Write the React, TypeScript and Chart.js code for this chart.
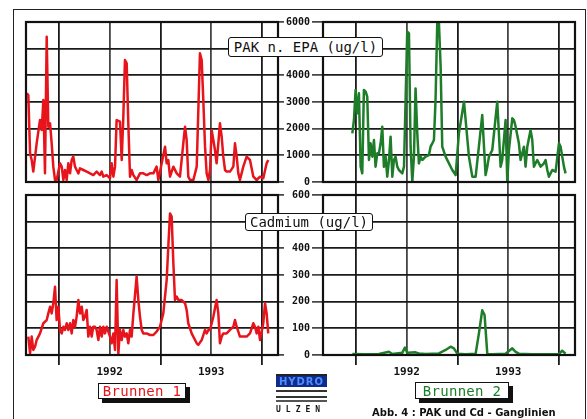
import React, { useEffect, useRef } from 'react';
import { Chart, registerables } from 'chart.js';

Chart.register(...registerables);

// ---------- data ----------
const xTickValues = [1992, 1992.5, 1993, 1993.5, 1994];
const xTickLabels = ['', '1992', '', '1993', ''];
const pakTickValues = [0, 1000, 2000, 3000, 4000, 5000, 6000];
const cdTickValues = [0, 100, 200, 300, 400, 500, 600];

const b1PakDates = [1991.682,1991.698,1991.715,1991.731,1991.747,1991.780,1991.813,1991.830,1991.846,1991.862,
  1991.879,1991.895,1991.912,1991.928,1991.944,1991.961,1991.977,1992.010,1992.027,1992.043,
  1992.059,1992.076,1992.092,1992.109,1992.125,1992.141,1992.158,1992.174,1992.191,1992.207,
  1992.240,1992.273,1992.306,1992.338,1992.371,1992.404,1992.421,1992.437,1992.470,1992.503,
  1992.519,1992.536,1992.552,1992.568,1992.601,1992.618,1992.634,1992.650,1992.667,1992.683,
  1992.700,1992.716,1992.733,1992.765,1992.798,1992.831,1992.864,1992.897,1992.930,1992.962,
  1992.979,1993.012,1993.045,1993.061,1993.077,1993.094,1993.127,1993.160,1993.192,1993.225,
  1993.242,1993.258,1993.274,1993.291,1993.324,1993.357,1993.389,1993.406,1993.422,1993.439,
  1993.455,1993.472,1993.488,1993.504,1993.521,1993.537,1993.553,1993.570,1993.586,1993.603,
  1993.619,1993.636,1993.652,1993.685,1993.718,1993.734,1993.751,1993.767,1993.783,1993.816,
  1993.849,1993.882,1993.915,1993.948,1993.981,1994.013,1994.046,1994.062];
const b1PakValues = [3325,3260,1075,825,390,1450,2325,1950,3075,325,
  5450,2075,2200,1450,575,75,75,700,575,75,
  450,75,700,325,825,950,575,450,325,510,
  450,390,325,260,390,260,390,200,260,140,
  700,200,575,2325,2260,825,2450,4575,4450,2200,
  200,450,260,75,325,325,260,325,325,575,
  75,700,1325,700,825,200,575,325,200,1450,
  2075,1575,200,75,75,575,4825,4575,3075,1325,
  325,75,450,1950,1575,1200,700,1450,2200,1700,
  950,450,390,390,575,1450,950,325,75,575,
  950,825,200,75,200,140,700,825];

const b2PakDates = [1991.964,1991.980,1991.996,1992.013,1992.029,1992.046,1992.062,1992.078,1992.095,1992.111,
  1992.128,1992.144,1992.161,1992.177,1992.193,1992.210,1992.226,1992.243,1992.259,1992.275,
  1992.292,1992.308,1992.325,1992.341,1992.358,1992.374,1992.390,1992.407,1992.423,1992.456,
  1992.473,1992.505,1992.522,1992.538,1992.555,1992.571,1992.587,1992.604,1992.620,1992.637,
  1992.653,1992.686,1992.719,1992.735,1992.752,1992.768,1992.784,1992.801,1992.817,1992.834,
  1992.850,1992.883,1992.916,1992.949,1992.982,1993.014,1993.064,1993.113,1993.146,1993.179,
  1993.211,1993.244,1993.277,1993.294,1993.310,1993.343,1993.392,1993.425,1993.441,1993.474,
  1993.491,1993.507,1993.540,1993.556,1993.573,1993.605,1993.622,1993.655,1993.671,1993.688,
  1993.720,1993.737,1993.753,1993.786,1993.819,1993.852,1993.868,1993.885,1993.901,1993.917,
  1993.934,1993.967,1994.000,1994.016,1994.049,1994.065];
const b2PakValues = [1825,2325,3450,2575,3325,575,325,3450,3390,3200,
  825,1450,950,1575,575,1075,1075,1450,2075,575,
  950,200,825,1700,200,825,950,575,450,325,
  575,5640,5575,1325,10,950,3510,1825,700,950,
  825,950,1010,1325,1450,1575,3075,6000,6000,4325,
  1325,950,700,450,260,1825,3010,950,200,200,
  1325,2510,260,575,950,1200,3010,575,825,2325,
  0,1200,2390,2325,2075,1450,825,1325,575,1325,
  1950,1575,575,825,575,700,825,450,200,325,
  450,390,1450,1325,575,325];

const b1CdDates = [1991.698,1991.715,1991.731,1991.747,1991.764,1991.780,1991.813,1991.846,1991.879,1991.895,
  1991.912,1991.928,1991.944,1991.961,1991.977,1991.994,1992.010,1992.027,1992.043,1992.059,
  1992.076,1992.092,1992.109,1992.125,1992.141,1992.158,1992.174,1992.191,1992.207,1992.224,
  1992.240,1992.256,1992.273,1992.289,1992.306,1992.322,1992.338,1992.355,1992.371,1992.388,
  1992.404,1992.421,1992.437,1992.453,1992.470,1992.503,1992.519,1992.536,1992.552,1992.568,
  1992.585,1992.601,1992.618,1992.634,1992.650,1992.667,1992.683,1992.700,1992.716,1992.733,
  1992.765,1992.782,1992.798,1992.815,1992.831,1992.864,1992.897,1992.930,1992.962,1992.995,
  1993.028,1993.061,1993.077,1993.094,1993.110,1993.127,1993.143,1993.160,1993.176,1993.209,
  1993.242,1993.258,1993.274,1993.307,1993.357,1993.373,1993.406,1993.439,1993.455,1993.472,
  1993.488,1993.521,1993.553,1993.570,1993.586,1993.603,1993.619,1993.652,1993.685,1993.718,
  1993.734,1993.751,1993.783,1993.816,1993.849,1993.882,1993.915,1993.931,1993.948,1993.964,
  1993.981,1994.013,1994.030,1994.046,1994.062];
const b1CdValues = [69,6,69,19,31,56,81,119,131,156,
  181,156,194,256,131,181,94,81,106,94,
  119,94,119,81,131,106,144,206,156,181,
  131,144,169,69,106,69,106,106,94,56,
  106,69,106,81,106,69,44,81,19,281,
  6,94,56,94,69,81,44,94,69,156,
  294,206,144,94,81,81,75,75,88,106,
  156,281,406,531,519,344,206,219,206,206,
  194,169,119,81,44,38,56,94,81,94,
  94,144,206,156,44,69,81,81,94,106,
  131,106,69,69,69,81,119,106,81,106,
  56,119,194,156,81];

const b2CdDates = [1991.964,1992.095,1992.226,1992.325,1992.358,1992.456,1992.482,1992.505,1992.587,1992.620,
  1992.686,1992.817,1992.883,1992.932,1992.965,1992.998,1993.080,1993.179,1993.211,1993.244,
  1993.267,1993.294,1993.343,1993.474,1993.540,1993.573,1993.605,1993.737,1993.868,1994.000,
  1994.032,1994.065];
const b2CdValues = [4,3,4,12,4,8,28,8,10,6,
  4,6,19,31,25,5,3,5,80,168,
  150,3,3,5,25,12,5,3,3,4,
  16,5];

// ---------- styling ----------
const X_MIN = 1991.675;
const X_MAX = 1994.158;
const RED = '#e8141b';
const GREEN = '#1e7d28';
const GRID = '#1a1a1a';
const GRID_HALF = '#444';
const MONO = '"DejaVu Sans Mono", "Liberation Mono", monospace';

const panelFrame = {
  id: 'panelFrame',
  afterDatasetsDraw(chart: any) {
    const { ctx, chartArea: a } = chart;
    ctx.save();
    ctx.strokeStyle = '#111';
    ctx.lineWidth = 2.2;
    ctx.strokeRect(a.left, a.top, a.right - a.left, a.bottom - a.top);
    ctx.restore();
  },
};

function toPoints(xs: number[], ys: number[]) {
  return xs.map((x, i) => ({ x, y: ys[i] }));
}

function makeConfig(opts: {
  dates: number[];
  values: number[];
  color: string;
  ticks: number[];
  max: number;
  side: 'left' | 'right';
  bottom: boolean;
  padding: any;
}): any {
  const { dates, values, color, ticks, max, side, bottom, padding } = opts;
  const isLeft = side === 'left';
  return {
    type: 'line',
    data: {
      datasets: [
        {
          data: toPoints(dates, values),
          borderColor: color,
          borderWidth: 2.5,
          pointRadius: 0,
          tension: 0,
          fill: false,
          borderJoinStyle: 'round',
        },
      ],
    },
    options: {
      animation: false,
      responsive: false,
      maintainAspectRatio: false,
      layout: { padding },
      plugins: { legend: { display: false }, tooltip: { enabled: false }, title: { display: false } },
      scales: {
        x: {
          type: 'linear',
          min: X_MIN,
          max: X_MAX,
          afterBuildTicks: (s: any) => {
            s.ticks = xTickValues.map((v) => ({ value: v }));
          },
          afterFit: (s: any) => {
            s.height = bottom ? 24 : 13;
          },
          border: { display: false },
          grid: {
            color: (ctx: any) => (ctx.tick && !Number.isInteger(ctx.tick.value) ? GRID_HALF : GRID),
            lineWidth: 1.8,
            drawTicks: true,
            tickLength: bottom ? 10 : 13,
            tickWidth: 1.8,
            tickColor: bottom
              ? (ctx: any) => (ctx.tick && Number.isInteger(ctx.tick.value) ? GRID : 'rgba(0,0,0,0)')
              : (ctx: any) => (ctx.tick && !Number.isInteger(ctx.tick.value) ? GRID_HALF : GRID),
          },
          ticks: {
            display: bottom,
            autoSkip: false,
            maxRotation: 0,
            padding: 1,
            color: '#111',
            font: { family: MONO, size: 11, weight: 'bold' },
            callback: (_v: any, i: number) => xTickLabels[i],
          },
        },
        y: {
          type: 'linear',
          position: isLeft ? 'right' : 'left',
          min: 0,
          max,
          afterBuildTicks: (s: any) => {
            s.ticks = ticks.map((v) => ({ value: v }));
          },
          afterFit: (s: any) => {
            s.width = isLeft ? 6 : 43;
          },
          border: { display: false },
          grid: {
            color: GRID,
            lineWidth: 1.8,
            drawTicks: true,
            tickLength: isLeft ? 6 : 11,
            tickWidth: 1.4,
            tickColor: GRID,
          },
          ticks: {
            display: !isLeft,
            padding: 2,
            color: '#111',
            font: { family: MONO, size: 10, weight: 'bold' },
            callback: (v: any) => String(v),
          },
        },
      },
    },
    plugins: [panelFrame],
  };
}

function Panel(props: { left: number; top: number; width: number; height: number; config: () => any }) {
  const ref = useRef<HTMLCanvasElement | null>(null);
  useEffect(() => {
    if (!ref.current) return;
    const chart = new Chart(ref.current, props.config());
    return () => chart.destroy();
  }, []);
  return (
    <canvas
      ref={ref}
      width={props.width}
      height={props.height}
      style={{ position: 'absolute', left: props.left, top: props.top, width: props.width, height: props.height }}
    />
  );
}

const boxStyle: React.CSSProperties = {
  position: 'absolute',
  background: '#fff',
  border: '1.5px solid #111',
  borderRadius: 3,
  fontFamily: MONO,
  fontSize: 14,
  color: '#111',
  display: 'flex',
  alignItems: 'center',
  justifyContent: 'center',
  boxSizing: 'border-box',
  whiteSpace: 'nowrap',
};

const labelBox: React.CSSProperties = {
  position: 'absolute',
  background: '#fff',
  border: '1px solid #111',
  boxShadow: '4px 4px 0 #111',
  fontFamily: MONO,
  fontSize: 14,
  display: 'flex',
  alignItems: 'center',
  justifyContent: 'center',
  boxSizing: 'border-box',
  whiteSpace: 'nowrap',
  letterSpacing: 0.3,
};

export default function App() {
  return (
    <div
      style={{
        position: 'absolute',
        left: 0,
        top: 0,
        width: 587,
        height: 419,
        overflow: 'hidden',
        background: '#fff',
      }}
    >
      {/* outer frame */}
      <div
        style={{
          position: 'absolute',
          left: 13,
          top: 9,
          width: 573,
          height: 440,
          border: '1.5px solid #222',
          boxSizing: 'border-box',
        }}
      />
      <Panel
        left={18}
        top={14}
        width={266}
        height={181}
        config={() =>
          makeConfig({ dates: b1PakDates, values: b1PakValues, color: RED, ticks: pakTickValues, max: 6000, side: 'left', bottom: false, padding: { left: 8, top: 8, right: 0, bottom: 0 } })
        }
      />
      <Panel
        left={280}
        top={14}
        width={297}
        height={181}
        config={() =>
          makeConfig({ dates: b2PakDates, values: b2PakValues, color: GREEN, ticks: pakTickValues, max: 6000, side: 'right', bottom: false, padding: { left: 0, top: 8, right: 2, bottom: 0 } })
        }
      />
      <Panel
        left={18}
        top={187}
        width={266}
        height={192}
        config={() =>
          makeConfig({ dates: b1CdDates, values: b1CdValues, color: RED, ticks: cdTickValues, max: 600, side: 'left', bottom: true, padding: { left: 8, top: 8, right: 0, bottom: 0 } })
        }
      />
      <Panel
        left={280}
        top={187}
        width={297}
        height={192}
        config={() =>
          makeConfig({ dates: b2CdDates, values: b2CdValues, color: GREEN, ticks: cdTickValues, max: 600, side: 'right', bottom: true, padding: { left: 0, top: 8, right: 2, bottom: 0 } })
        }
      />

      {/* axis titles */}
      <div style={{ ...boxStyle, left: 228, top: 37, width: 155, height: 20 }}>PAK n. EPA (ug/l)</div>
      <div style={{ ...boxStyle, left: 245, top: 213, width: 128, height: 18 }}>Cadmium (ug/l)</div>

      {/* series labels */}
      <div style={{ ...labelBox, left: 98, top: 383, width: 88, height: 16, color: RED }}>Brunnen 1</div>
      <div style={{ ...labelBox, left: 415, top: 382, width: 94, height: 17, color: GREEN }}>Brunnen 2</div>

      {/* logo */}
      <div style={{ position: 'absolute', left: 276, top: 374, width: 51 }}>
        <div style={{ height: 2, background: '#222' }} />
        <div
          style={{
            height: 11,
            background: '#0d2c8c',
            color: '#4f8dff',
            fontFamily: '"DejaVu Sans", sans-serif',
            fontWeight: 'bold',
            fontSize: 10,
            lineHeight: '11px',
            textAlign: 'center',
            letterSpacing: 1,
          }}
        >
          HYDRO
        </div>
        <div style={{ height: 3 }} />
        <div style={{ height: 2, background: '#333' }} />
        <div style={{ height: 4 }} />
        <div style={{ height: 2, background: '#333' }} />
        <div style={{ height: 2 }} />
        <div style={{ height: 2, background: '#555' }} />
        <div
          style={{
            marginTop: 3,
            fontFamily: MONO,
            fontWeight: 'bold',
            fontSize: 8,
            lineHeight: '9px',
            letterSpacing: 5,
            color: '#111',
          }}
        >
          ULZEN
        </div>
      </div>

      {/* caption */}
      <div
        style={{
          position: 'absolute',
          left: 372,
          top: 407,
          fontFamily: '"DejaVu Sans", sans-serif',
          fontWeight: 'bold',
          fontSize: 10,
          color: '#111',
          whiteSpace: 'nowrap',
        }}
      >
        Abb. 4 : PAK und Cd - Ganglinien
      </div>
    </div>
  );
}
